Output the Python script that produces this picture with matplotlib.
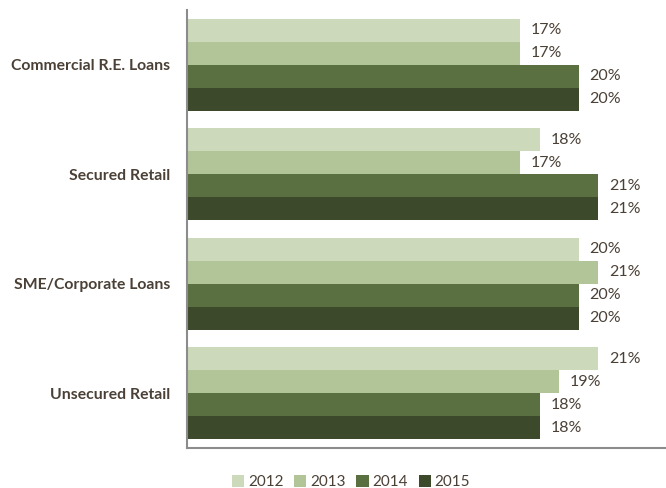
import matplotlib
matplotlib.use('Agg')
import matplotlib.pyplot as plt
import numpy as np

categories = ['Commercial R.E. Loans', 'Secured Retail', 'SME/Corporate Loans', 'Unsecured Retail']
years = ['2012', '2013', '2014', '2015']
v2012 = [17, 18, 20, 21]
v2013 = [17, 17, 21, 19]
v2014 = [20, 21, 20, 18]
v2015 = [20, 21, 20, 18]
series = [v2012, v2013, v2014, v2015]
colors = ['#CCD9BB', '#B1C598', '#5A7040', '#3C4A2B']
txt = '#4A4036'

plt.rcParams['font.family'] = ['Lato', 'DejaVu Sans']

fig = plt.figure(figsize=(6.66, 4.88), dpi=100)
ax = fig.add_axes([187 / 666, 1 - 448 / 488, 1 - 187 / 666, 438 / 488])

h = 0.21
y = np.arange(len(categories))
for i, (vals, col, yr) in enumerate(zip(series, colors, years)):
    pos = y - 1.5 * h + i * h
    ax.barh(pos, vals, height=h, color=col, label=yr)
    for p, v in zip(pos, vals):
        ax.text(v + 0.55, p, f'{v}%', va='center', ha='left', fontsize=11.5, color=txt)

ax.set_ylim(3.5, -0.5)
ax.set_xlim(0, 24.45)
ax.set_yticks(y)
ax.set_yticklabels(categories, fontsize=11.3, fontweight='bold', color=txt)
ax.tick_params(axis='y', length=0, pad=12)
ax.set_xticks([])
for s in ['top', 'right']:
    ax.spines[s].set_visible(False)
for s in ['left', 'bottom']:
    ax.spines[s].set_color('#8C8C8C')
    ax.spines[s].set_linewidth(1.5)

leg = fig.legend(loc='center', bbox_to_anchor=(0.527, 0.012), ncol=4, frameon=False,
                 fontsize=11, handlelength=0.8, handleheight=0.8, handletextpad=0.25,
                 columnspacing=0.7)
for t in leg.get_texts():
    t.set_color(txt)

fig.savefig('out.png', dpi=100)
